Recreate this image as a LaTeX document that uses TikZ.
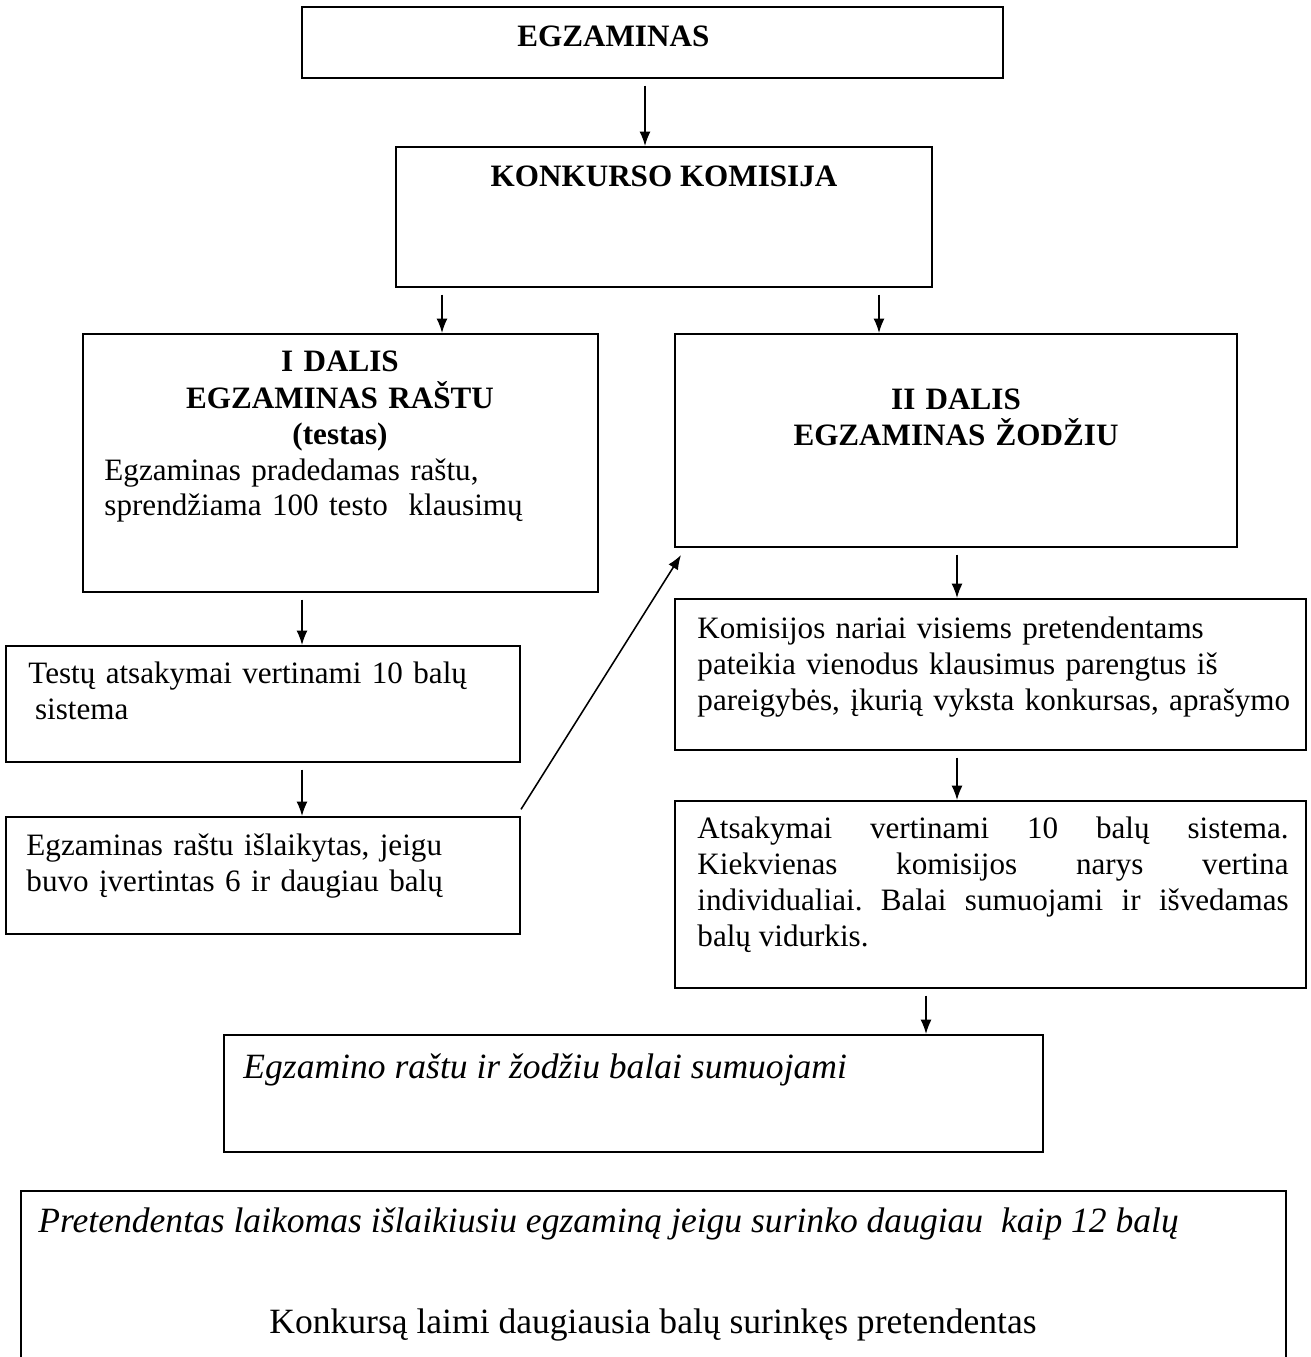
\documentclass[tikz,border=0pt]{standalone}
\usepackage{fontspec}
\setmainfont{Liberation Serif}
\usetikzlibrary{arrows.meta}
\usetikzlibrary{fit}
\tikzset{
	box/.style={draw,line width=0.9pt,inner sep=0pt},
	txt/.style={inner sep=0pt,font=\fontsize{14}{16.2}\selectfont,align=left},
	head/.style={inner sep=0pt,font=\fontsize{14}{16.4}\selectfont\bfseries,align=center},
	bigtxt/.style={inner sep=0pt,font=\fontsize{16}{19}\selectfont},
	arr/.style={-{Latex[length=6.5pt,width=5pt]},line width=0.7pt,shorten <=3pt}
}
\tolerance=10000
\hyphenpenalty=10000
\frenchspacing

\begin{document}
\begin{tikzpicture}[x=0.45pt,y=-0.45pt]
	\path[use as bounding box] (0,0) rectangle (1310,1357);
	\clip (0,0) rectangle (1310,1357);
	% boxes
	\node[box,fit={(302,7) (1003,78)}] (exam) {};
	\node[box,fit={(396,147) (932,287)}] (komisija) {};
	\node[box,fit={(83,334) (598,592)}] (dalis1) {};
	\node[box,fit={(675,334) (1237,547)}] (dalis2) {};
	\node[box,fit={(6,646) (520,762)}] (testai) {};
	\node[box,fit={(6,817) (520,934)}] (islaik) {};
	\node[box,fit={(675,599) (1306,750)}] (nariai) {};
	\node[box,fit={(675,801) (1306,988)}] (vertin) {};
	\node[box,fit={(224,1035) (1043,1152)}] (suma) {};
	\node[box,fit={(21,1191) (1286,1370)}] (rezult) {};
	% texts
	\node[head,anchor=base west] (examtxt) at (517,47) {EGZAMINAS};
	\node[head,anchor=base] (komtxt) at (664,187) {KONKURSO KOMISIJA};
	\node[head,anchor=base,text width=220pt] (d1head) at (340,372) {I DALIS\\EGZAMINAS RAŠTU\\(testas)};
	\node[txt,anchor=base west,text width=220pt] (d1txt) at (104,480) {Egzaminas pradedamas raštu,\\sprendžiama 100 testo\ \ klausimų};
	\node[head,anchor=base,text width=220pt] (d2head) at (956,409) {II DALIS\\EGZAMINAS ŽODŽIU};
	\node[txt,anchor=base west,text width=225pt] (testtxt) at (28,683) {Testų atsakymai vertinami 10 balų\\\hspace*{3pt}sistema};
	\node[txt,anchor=base west,text width=225pt] (islaiktxt) at (26,855) {Egzaminas raštu išlaikytas, jeigu\\buvo įvertintas 6 ir daugiau balų};
	\node[txt,anchor=base west,text width=275pt] (nartxt) at (697,638) {Komisijos nariai visiems pretendentams\\pateikia vienodus klausimus parengtus iš\\pareigybės, įkurią vyksta konkursas, aprašymo};
	\node[txt,anchor=base west,text width=266pt,align=justify] (vertxt) at (697,838) {Atsakymai vertinami 10 balų sistema.\linebreak Kiekvienas komisijos narys vertina\linebreak individualiai. Balai sumuojami ir išvedamas\linebreak balų vidurkis.};
	\node[bigtxt,anchor=base west] (sumtxt) at (243,1078) {\itshape Egzamino raštu ir žodžiu balai sumuojami};
	\node[bigtxt,anchor=base west] (rez1) at (38,1232) {\itshape Pretendentas laikomas išlaikiusiu egzaminą jeigu surinko daugiau\ \ kaip 12 balų};
	\node[bigtxt,anchor=base] (rez2) at (653,1333) {Konkursą laimi daugiausia balų surinkęs pretendentas};
	% arrows
	\draw[arr] (exam.south -| 645,0) -- (komisija.north -| 645,0);
	\draw[arr] (komisija.south -| 442,0) -- (dalis1.north -| 442,0);
	\draw[arr] (komisija.south -| 879,0) -- (dalis2.north -| 879,0);
	\draw[arr] (dalis1.south -| 302,0) -- (testai.north -| 302,0);
	\draw[arr] (testai.south -| 302,0) -- (islaik.north -| 302,0);
	\draw[arr] (dalis2.south -| 957,0) -- (nariai.north -| 957,0);
	\draw[arr] (nariai.south -| 957,0) -- (vertin.north -| 957,0);
	\draw[arr] (vertin.south -| 926,0) -- (suma.north -| 926,0);
	\draw[arr,shorten <=0pt] ([yshift=3pt]islaik.north east) -- ([shift={(7,7)}]dalis2.south west);
\end{tikzpicture}
\end{document}
